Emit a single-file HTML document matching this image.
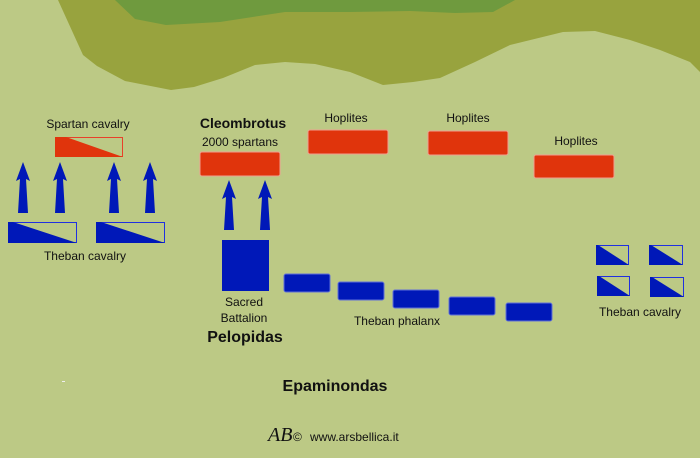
<!DOCTYPE html>
<html><head><meta charset="utf-8"><style>
html,body{margin:0;padding:0;background:#bcc985;}
svg{display:block}
text{font-family:"Liberation Sans",sans-serif;fill:#111;}
</style></head><body>
<svg width="700" height="458" viewBox="0 0 700 458" xmlns="http://www.w3.org/2000/svg">
<rect width="700" height="458" fill="#bcc985"/>
<polygon fill="#98a33e" points="58,0 83,55 97,66 125,81 171,90 194,87 223,78 255,65 285,62 315,64 350,72 383,85 413,82 440,78 475,62 510,45 563,32 595,31 630,40 660,50 690,62 700,72 700,0"/>
<polygon fill="#6f9a3e" points="115,0 135,19 166,25 220,22 285,12 350,12 410,11 455,13 493,12 515,0"/>

<!-- Spartan cavalry -->
<text x="88" y="128" font-size="12" text-anchor="middle">Spartan cavalry</text>
<rect x="55.5" y="137.5" width="67" height="19" fill="none" stroke="#e8402a" stroke-width="1"/>
<polygon fill="#e0340c" points="55,137 66,137 123,157 55,157"/>

<!-- arrows -->
<g fill="#0018b8">
<polygon points="23,162 30,181 26,179 28,213 18,213 20,179 16,181"/>
<polygon points="60,162 67,181 63,179 65,213 55,213 57,179 53,181"/>
<polygon points="114,162 121,181 117,179 119,213 109,213 111,179 107,181"/>
<polygon points="150,162 157,181 153,179 155,213 145,213 147,179 143,181"/>
<polygon points="229,180 236,199 232,197 234,230 224,230 226,197 222,199"/>
<polygon points="265,180 272,199 268,197 270,230 260,230 262,197 258,199"/>
</g>

<!-- Theban cavalry left -->
<rect x="8.5" y="222.5" width="68" height="20" fill="none" stroke="#2030e0" stroke-width="1"/>
<polygon fill="#0018b8" points="8,222 13,222 77,243 8,243"/>
<rect x="96.5" y="222.5" width="68" height="20" fill="none" stroke="#2030e0" stroke-width="1"/>
<polygon fill="#0018b8" points="96,222 101,222 165,243 96,243"/>
<text x="85" y="260" font-size="12" text-anchor="middle">Theban cavalry</text>

<!-- Cleombrotus -->
<text x="243" y="128" font-size="14" font-weight="bold" text-anchor="middle">Cleombrotus</text>
<text x="240" y="146" font-size="12" text-anchor="middle">2000 spartans</text>
<rect x="200" y="152" width="80" height="24" rx="2" fill="#e0340c" stroke="#f0a090" stroke-width="1"/>

<!-- Hoplites -->
<text x="346" y="122" font-size="12" text-anchor="middle">Hoplites</text>
<rect x="308" y="130" width="80" height="24" rx="2" fill="#e0340c" stroke="#f0a090" stroke-width="1"/>
<text x="468" y="122" font-size="12" text-anchor="middle">Hoplites</text>
<rect x="428" y="131" width="80" height="24" rx="2" fill="#e0340c" stroke="#f0a090" stroke-width="1"/>
<text x="576" y="145" font-size="12" text-anchor="middle">Hoplites</text>
<rect x="534" y="155" width="80" height="23" rx="2" fill="#e0340c" stroke="#f0a090" stroke-width="1"/>

<!-- Sacred battalion & phalanx -->
<rect x="222" y="240" width="47" height="51" fill="#0018b8"/>
<g fill="#0018b8" stroke="#6070d8" stroke-width="1">
<rect x="284" y="274" width="46" height="18" rx="2"/>
<rect x="338" y="282" width="46" height="18" rx="2"/>
<rect x="393" y="290" width="46" height="18" rx="2"/>
<rect x="449" y="297" width="46" height="18" rx="2"/>
<rect x="506" y="303" width="46" height="18" rx="2"/>
</g>
<text x="244" y="306" font-size="12" text-anchor="middle">Sacred</text>
<text x="244" y="322" font-size="12" text-anchor="middle">Battalion</text>
<text x="245" y="342" font-size="16" font-weight="bold" text-anchor="middle">Pelopidas</text>
<text x="397" y="325" font-size="12" text-anchor="middle">Theban  phalanx</text>

<!-- Theban cavalry right -->
<g>
<rect x="596.5" y="245.5" width="32" height="19" fill="none" stroke="#2030e0"/>
<polygon fill="#0018b8" points="596,245 598,245 629,265 596,265"/>
<rect x="649.5" y="245.5" width="33" height="19" fill="none" stroke="#2030e0"/>
<polygon fill="#0018b8" points="649,245 651,245 683,265 649,265"/>
<rect x="597.5" y="276.5" width="32" height="19" fill="none" stroke="#2030e0"/>
<polygon fill="#0018b8" points="597,276 599,276 630,296 597,296"/>
<rect x="650.5" y="277.5" width="33" height="19" fill="none" stroke="#2030e0"/>
<polygon fill="#0018b8" points="650,277 652,277 684,297 650,297"/>
</g>
<text x="640" y="316" font-size="12" text-anchor="middle">Theban cavalry</text>

<text x="335" y="391" font-size="16" font-weight="bold" text-anchor="middle">Epaminondas</text>

<text x="268" y="441" font-size="20" font-family="Liberation Serif" font-style="italic" style="font-family:'Liberation Serif',serif">AB</text>
<text x="293" y="441" font-size="12">©</text>
<text x="310" y="441" font-size="12">www.arsbellica.it</text>
<rect x="62" y="381" width="3" height="1" fill="#eeeeee"/>
</svg>
</body></html>
